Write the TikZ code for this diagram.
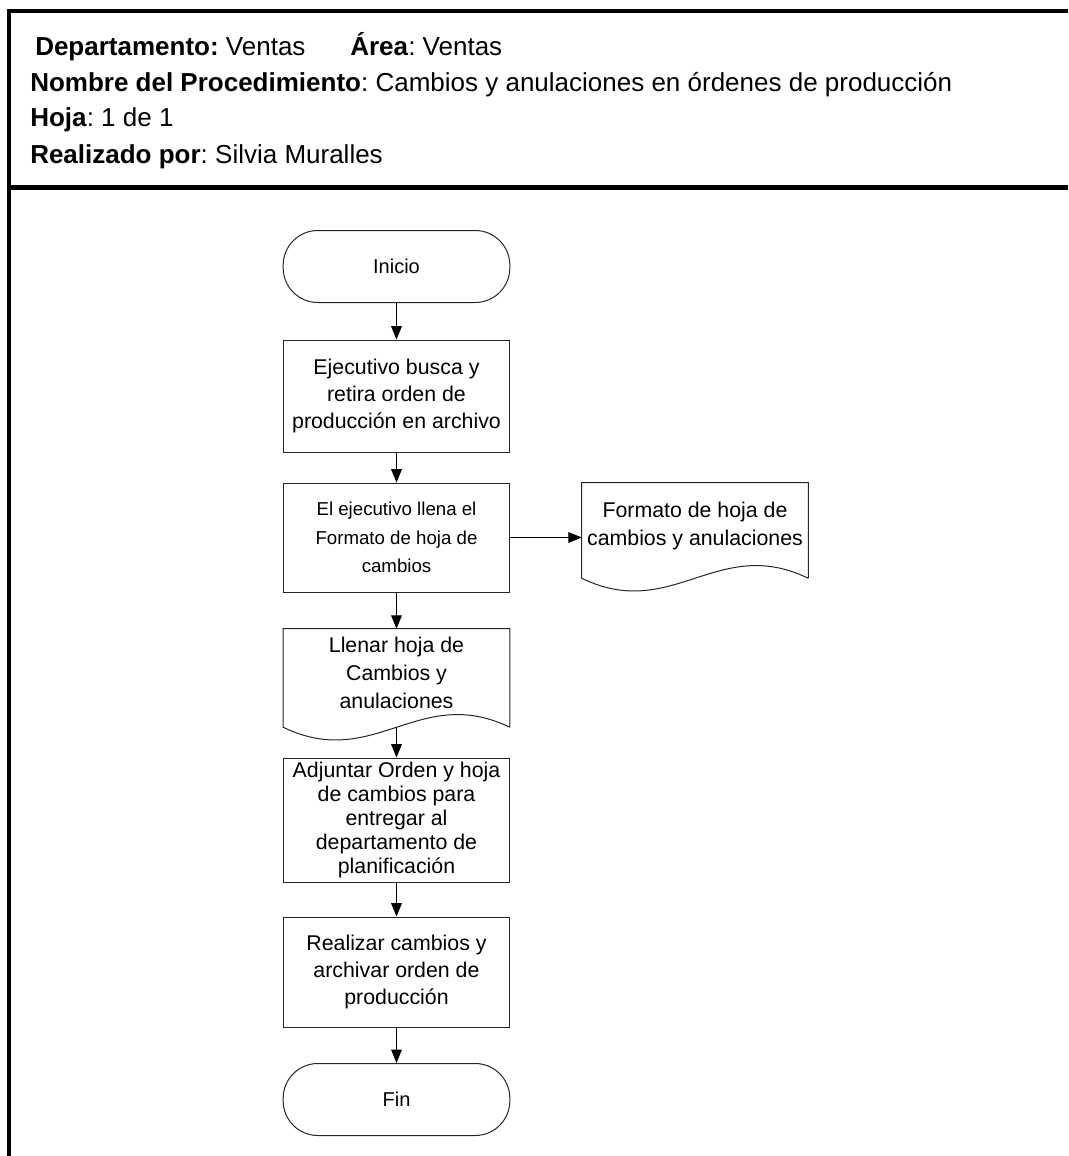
\documentclass[tikz,border=0pt]{standalone}
\usepackage{fontspec}
\setmainfont{Liberation Sans}
\usetikzlibrary{arrows.meta,calc}
\frenchspacing

% document symbol: straight top and sides, wavy bottom below the text body
\newcommand\docoutline[2]{%
  \draw[outline] ($(#1.south east)+(0,#2)$) -- (#1.north east) -- (#1.north west)
    -- ($(#1.south west)+(0,#2)$)
    .. controls +(90.8,44) and +(-90.8,-44) .. ($(#1.south east)+(0,#2)$);
  \coordinate (#1-b) at ($(#1.south)+(0,#2)$);
}

\begin{document}
\begin{tikzpicture}[x=0.75pt,y=-0.75pt,
  outline/.style={draw=black!85, line width=0.75pt},
  process/.style={outline, rectangle, minimum width=170pt, minimum height=#1,
    align=center, inner sep=2pt, font=\fontsize{16}{20.3}\selectfont},
  terminal/.style={outline, rectangle, rounded corners=26pt, minimum width=170pt,
    minimum height=54pt, font=\fontsize{15}{18}\selectfont},
  docbody/.style={rectangle, minimum width=169.5pt, minimum height=#1,
    align=center, inner sep=0pt, font=\fontsize{16}{21}\selectfont},
  flow/.style={draw=black, line width=0.75pt, -{Triangle[length=10pt,width=8pt]}},
  frame/.style={draw=black, line width=3pt},
  head/.style={anchor=base west, inner sep=0pt, font=\fontsize{19.5}{22}\selectfont}
]
\useasboundingbox (0,0) rectangle (1068,1156);

% header frame
\draw[frame] (9,1156) -- (9,11);
\draw[frame] (7,11) -- (1068,11);
\draw[draw=black, line width=3.5pt] (9,187.5) -- (1068,187.5);

% header texts
\node[head] (dep)  at (35,56)  {\textbf{Departamento:} Ventas};
\node[head] (area) at (350,56) {\textbf{Área}: Ventas};
\node[head] (nom)  at (30,92)  {\textbf{Nombre del Procedimiento}: Cambios y anulaciones en órdenes de producción};
\node[head] (hoja) at (30,127) {\textbf{Hoja}: 1 de 1};
\node[head] (real) at (30,163) {\textbf{Realizado por}: Silvia Muralles};

% flowchart
\node[terminal] (inicio) at (396.5,266.5) {Inicio};
\node[process=84pt] (p1) at (396.5,396) {Ejecutivo busca y\\retira orden de\\producción en archivo};
\node[process=81.75pt, font=\fontsize{14}{21.5}\selectfont] (p2) at (396.5,537.5)
  {El ejecutivo llena el\\Formato de hoja de\\cambios};
\node[docbody=64.5pt] (d1) at (695,526) {Formato de hoja de\\cambios y anulaciones};
\docoutline{d1}{9}
\node[docbody=66pt] (d2) at (396.5,673) {Llenar hoja de\\Cambios y\\anulaciones};
\docoutline{d2}{10}
\node[process=93pt, font=\fontsize{16}{18}\selectfont] (p3) at (396.5,820)
  {Adjuntar Orden y hoja\\de cambios para\\entregar al\\departamento de\\planificación};
\node[process=82.5pt] (p4) at (396.5,972) {Realizar cambios y\\archivar orden de\\producción};
\node[terminal] (fin) at (396.5,1099.5) {Fin};

% connectors
\draw[flow] (inicio) -- (p1);
\draw[flow] (p1) -- (p2);
\draw[flow] (p2.east) -- (p2.east -| d1.west);
\draw[flow] (p2) -- (d2);
\draw[flow] (d2-b) -- (p3);
\draw[flow] (p3) -- (p4);
\draw[flow] (p4) -- (fin);
\end{tikzpicture}
\end{document}
